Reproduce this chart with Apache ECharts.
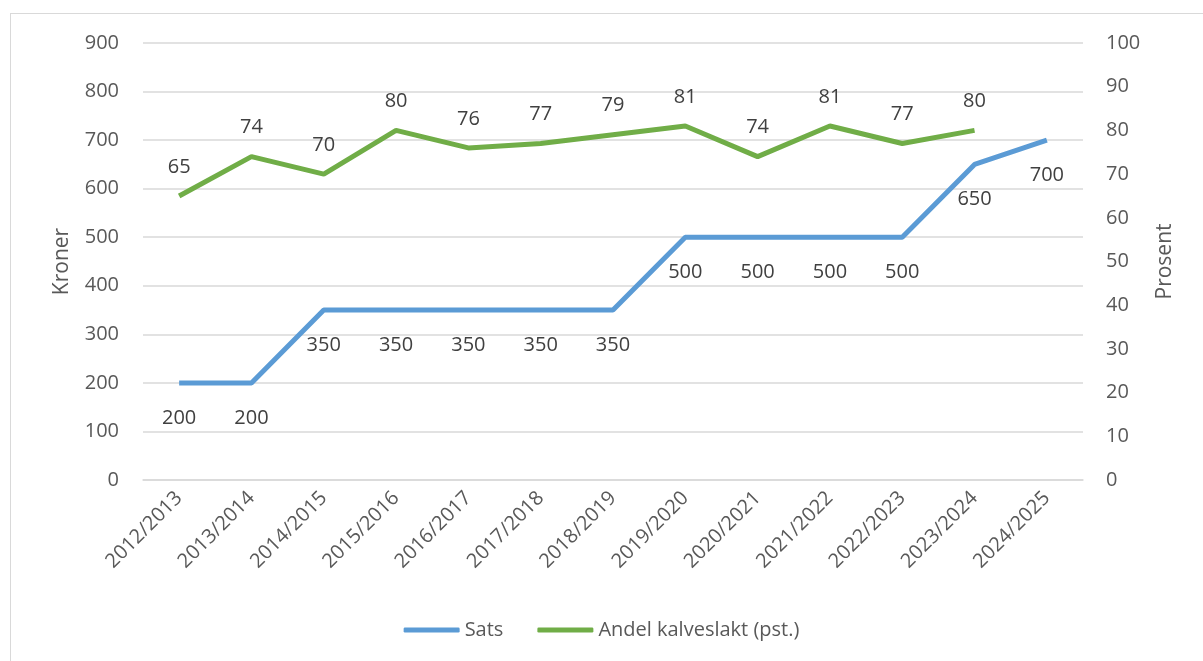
<!DOCTYPE html>
<html><head><meta charset="utf-8">
<script src="https://cdn.jsdelivr.net/npm/echarts@6/dist/echarts.min.js"></script>
<style>html,body{margin:0;padding:0;background:#fff}#c{width:1203px;height:661px}
#frame{position:absolute;left:10px;top:13px;width:1300px;height:800px;border:1px solid #d9d9d9;pointer-events:none}</style>
</head><body><div id="c"></div><div id="frame"></div>
<script>
const categories = ['2012/2013','2013/2014','2014/2015','2015/2016','2016/2017','2017/2018','2018/2019','2019/2020','2020/2021','2021/2022','2022/2023','2023/2024','2024/2025'];
const sats = [200,200,350,350,350,350,350,500,500,500,500,650,700];
const andel = [65,74,70,80,76,77,79,81,74,81,77,80,null];
const leftTicks = {min:0,max:900,interval:100};
const rightTicks = {min:0,max:100,interval:10};
const font = 'Open Sans';
const txt = '#595959';
const chart = echarts.init(document.getElementById('c'));
chart.setOption({
  animation:false,
  textStyle:{fontFamily:font},
  grid:{left:143,right:120,top:43,bottom:181},
  legend:{bottom:16,left:'center',itemWidth:56,itemHeight:5,itemGap:34,icon:'roundRect',
    textStyle:{color:txt,fontSize:20,fontFamily:font},
    data:['Sats','Andel kalveslakt (pst.)']},
  xAxis:{type:'category',data:categories,boundaryGap:true,
    axisLine:{show:true,lineStyle:{color:'#d9d9d9',width:1.5}},axisTick:{show:false},
    axisLabel:{rotate:45,color:txt,fontSize:20,fontFamily:font,margin:15,interval:0}},
  yAxis:[
    {type:'value',min:leftTicks.min,max:leftTicks.max,interval:leftTicks.interval,
     name:'Kroner',nameLocation:'middle',nameGap:70,nameRotate:90,
     nameTextStyle:{color:txt,fontSize:21,fontFamily:font},
     axisLine:{show:false},axisTick:{show:false},
     axisLabel:{color:txt,fontSize:20,fontFamily:font,margin:24},
     splitLine:{lineStyle:{color:'#d9d9d9',width:1.5}}},
    {type:'value',min:rightTicks.min,max:rightTicks.max,interval:rightTicks.interval,
     name:'Prosent',nameLocation:'middle',nameGap:72,nameRotate:90,
     nameTextStyle:{color:txt,fontSize:21,fontFamily:font},
     axisLine:{show:false},axisTick:{show:false},
     axisLabel:{color:txt,fontSize:20,fontFamily:font,margin:23},
     splitLine:{show:false}}
  ],
  series:[
    {name:'Sats',type:'line',yAxisIndex:0,data:sats,symbol:'circle',symbolSize:0,showSymbol:true,
     lineStyle:{color:'#5B9BD5',width:5},itemStyle:{color:'#5B9BD5'},
     label:{show:true,position:'bottom',distance:25,color:'#404040',fontSize:20,fontFamily:font}},
    {name:'Andel kalveslakt (pst.)',type:'line',yAxisIndex:1,data:andel,symbol:'circle',symbolSize:0,showSymbol:true,
     lineStyle:{color:'#70AD47',width:5},itemStyle:{color:'#70AD47'},
     label:{show:true,position:'top',distance:19,color:'#404040',fontSize:20,fontFamily:font}}
  ]
});
</script></body></html>
